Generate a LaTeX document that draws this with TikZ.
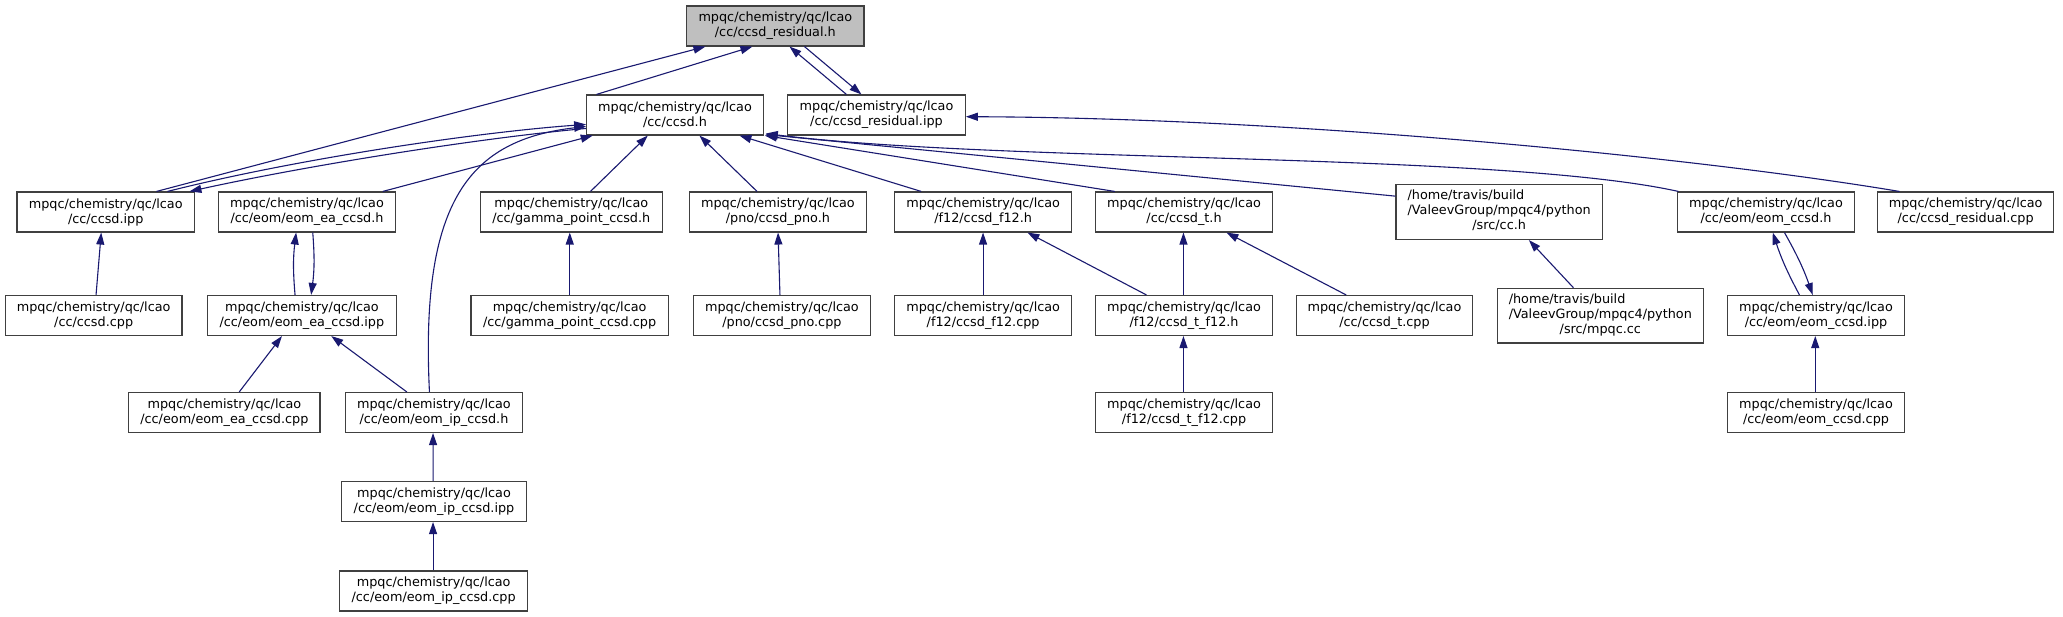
\documentclass[tikz,border=0pt]{standalone}
\usepackage{fontspec}
\setmainfont{DejaVu Sans}
\usetikzlibrary{arrows.meta}
\definecolor{edgecol}{HTML}{191970}
\definecolor{rootfill}{HTML}{BFBFBF}
\definecolor{boxline}{HTML}{404040}
\newcommand{\gbox}[7][]{\node[boxst,#1,minimum width={#5-#3},minimum height={#6-#4}] (#2) at ({(#3+#5)/2},{(#4+#6)/2}) {#7};}
\newcommand{\mq}{mpqc/chemistry/qc/lcao\\}
\newcommand{\hometxt}[1]{\begin{tabular}{@{}l@{}}/home/travis/build\\/ValeevGroup/mpqc4/python\\\multicolumn{1}{@{}c@{}}{#1}\end{tabular}}
\tikzset{
  boxst/.style={draw=boxline, line width=1.1pt, fill=white, inner sep=0pt, align=center,
    font=\fontsize{12.8}{15}\selectfont},
  edge/.style={draw=edgecol, line width=1.1pt, -{Triangle[length=12pt,width=8pt]}}
}
\begin{document}
\begin{tikzpicture}[x=1pt,y=-1pt]
\useasboundingbox[fill=white] (0,0) rectangle (2063,617);
% row 0
\gbox[fill=rootfill]{root}{686.7}{6}{864}{46}{\mq/cc/ccsd\_residual.h}
% row 1
\gbox{ccsdh}{586.7}{95}{763.3}{135}{\mq/cc/ccsd.h}
\gbox{resipp}{787.7}{95}{965.3}{135}{\mq/cc/ccsd\_residual.ipp}
% row 2
\gbox{ccsdipp}{17}{192}{194.5}{232}{\mq/cc/ccsd.ipp}
\gbox{eaH}{218.5}{192}{395.5}{232}{\mq/cc/eom/eom\_ea\_ccsd.h}
\gbox{gammaH}{480.3}{192}{662.3}{232}{\mq/cc/gamma\_point\_ccsd.h}
\gbox{pnoH}{689.2}{192}{866.6}{232}{\mq/pno/ccsd\_pno.h}
\gbox{f12H}{894.9}{192}{1071.4}{232}{\mq/f12/ccsd\_f12.h}
\gbox{tH}{1095.7}{192}{1272.4}{232}{\mq/cc/ccsd\_t.h}
\gbox{cch}{1396}{184.5}{1602.3}{239.5}{\hometxt{/src/cc.h}}
\gbox{eomH}{1677.5}{192}{1854.5}{232}{\mq/cc/eom/eom\_ccsd.h}
\gbox{rescpp}{1877.6}{192}{2053.7}{232}{\mq/cc/ccsd\_residual.cpp}
% row 3
\gbox{ccsdcpp}{5.3}{295.5}{182}{335.5}{\mq/cc/ccsd.cpp}
\gbox{eaIpp}{207.6}{295.5}{396.2}{335.5}{\mq/cc/eom/eom\_ea\_ccsd.ipp}
\gbox{gammaCpp}{471}{295.5}{668.2}{335.5}{\mq/cc/gamma\_point\_ccsd.cpp}
\gbox{pnoCpp}{693.2}{295.5}{870.6}{335.5}{\mq/pno/ccsd\_pno.cpp}
\gbox{f12Cpp}{894.9}{295.5}{1071.4}{335.5}{\mq/f12/ccsd\_f12.cpp}
\gbox{tf12H}{1095.7}{295.5}{1272.4}{335.5}{\mq/f12/ccsd\_t\_f12.h}
\gbox{tCpp}{1296.1}{295.5}{1472.8}{335.5}{\mq/cc/ccsd\_t.cpp}
\gbox{mpqccc}{1497.1}{288.3}{1703.5}{343}{\hometxt{/src/mpqc.cc}}
\gbox{eomIpp}{1727.5}{295.5}{1904.5}{335.5}{\mq/cc/eom/eom\_ccsd.ipp}
% row 4
\gbox{eaCpp}{128.8}{392.5}{320}{432.5}{\mq/cc/eom/eom\_ea\_ccsd.cpp}
\gbox{ipH}{345.6}{392.5}{522.3}{432.5}{\mq/cc/eom/eom\_ip\_ccsd.h}
\gbox{tf12Cpp}{1095.7}{392.5}{1272.4}{432.5}{\mq/f12/ccsd\_t\_f12.cpp}
\gbox{eomCpp}{1727.5}{392.5}{1904.5}{432.5}{\mq/cc/eom/eom\_ccsd.cpp}
% row 5, 6
\gbox{ipIpp}{341.7}{481.5}{526.3}{521.5}{\mq/cc/eom/eom\_ip\_ccsd.ipp}
\gbox{ipCpp}{339.7}{571}{527.6}{611}{\mq/cc/eom/eom\_ip\_ccsd.cpp}

% edges to root
\draw[edge] ([xshift=10.3pt]ccsdh.north west) -- ([xshift=66.3pt]root.south west);
\draw[edge] ([xshift=59.3pt]resipp.north west) -- ([xshift=103.3pt]root.south west);
\draw[edge] ([xshift=118.3pt]root.south west) -- ([xshift=74.3pt]resipp.north west);
\draw[edge] ([xshift=140pt]ccsdipp.north west) -- ([xshift=19.3pt]root.south west);
% edges to ccsd.h
\draw[edge] ([xshift=151pt]ccsdipp.north west) .. controls (300,158) and (480,132) .. ([yshift=-30pt]ccsdh.north west);
\draw[edge] ([yshift=-34pt]ccsdh.north west) .. controls (480,138) and (310,165) .. ([xshift=173pt]ccsdipp.north west);
\draw[edge] ([xshift=164.8pt]eaH.north west) -- ([xshift=6.6pt]ccsdh.south west);
\draw[edge] ([xshift=84.4pt]ipH.north west) .. controls (420,200) and (470,140) .. ([yshift=-32pt]ccsdh.north west);
\draw[edge] ([xshift=110.7pt]gammaH.north west) -- ([xshift=61.6pt]ccsdh.south west);
\draw[edge] ([xshift=68.4pt]pnoH.north west) -- ([xshift=113.3pt]ccsdh.south west);
\draw[edge] ([xshift=26.9pt]f12H.north west) -- ([xshift=153.3pt]ccsdh.south west);
\draw[edge] ([xshift=19.7pt]tH.north west) -- ([xshift=1pt]ccsdh.south east);
\draw[edge] ([yshift=-12.2pt]cch.north west) -- ([xshift=1.7pt,yshift=1pt]ccsdh.south east);
\draw[edge] ([xshift=1.5pt]eomH.north west) .. controls (1500,152) and (1000,163) .. ([xshift=2pt,yshift=2pt]ccsdh.south east);
% residual.cpp -> residual.ipp
\draw[edge] ([xshift=22.4pt]rescpp.north west) .. controls (1700,158) and (1300,118) .. ([yshift=-1.7pt]resipp.east);
% lower edges
\draw[edge] ([xshift=91.3pt]ccsdcpp.north west) -- ([xshift=84.8pt]ccsdipp.south west);
\draw[edge] ([xshift=88pt]eaIpp.north west) to[bend left=6] ([xshift=78.2pt]eaH.south west);
\draw[edge] ([xshift=94.8pt]eaH.south west) to[bend left=6] ([xshift=104.1pt]eaIpp.north west);
\draw[edge] ([xshift=99.3pt]gammaCpp.north west) -- ([xshift=90pt]gammaH.south west);
\draw[edge] ([xshift=87.3pt]pnoCpp.north west) -- ([xshift=89.4pt]pnoH.south west);
\draw[edge] ([xshift=88.7pt]f12Cpp.north west) -- ([xshift=88.7pt]f12H.south west);
\draw[edge] ([xshift=51.3pt]tf12H.north west) -- ([xshift=133.1pt]f12H.south west);
\draw[edge] ([xshift=88.3pt]tf12H.north west) -- ([xshift=88.3pt]tH.south west);
\draw[edge] ([xshift=88.3pt]tf12Cpp.north west) -- ([xshift=88.3pt]tf12H.south west);
\draw[edge] ([xshift=50.6pt]tCpp.north west) -- ([xshift=131.3pt]tH.south west);
\draw[edge] ([xshift=76.9pt]mpqccc.north west) -- ([xshift=133.4pt]cch.south west);
\draw[edge] ([xshift=72.5pt]eomIpp.north west) to[bend left=5] ([xshift=95.8pt]eomH.south west);
\draw[edge] ([xshift=107.5pt]eomH.south west) to[bend left=5] ([xshift=85.8pt]eomIpp.north west);
\draw[edge] ([xshift=88.3pt]eomCpp.north west) -- ([xshift=88.3pt]eomIpp.south west);
\draw[edge] ([xshift=111pt]eaCpp.north west) -- ([xshift=74.9pt]eaIpp.south west);
\draw[edge] ([xshift=61.8pt]ipH.north west) -- ([xshift=124.2pt]eaIpp.south west);
\draw[edge] ([xshift=91.9pt]ipIpp.north west) -- ([xshift=88pt]ipH.south west);
\draw[edge] ([xshift=93.9pt]ipCpp.north west) -- ([xshift=91.9pt]ipIpp.south west);
\end{tikzpicture}
\end{document}
